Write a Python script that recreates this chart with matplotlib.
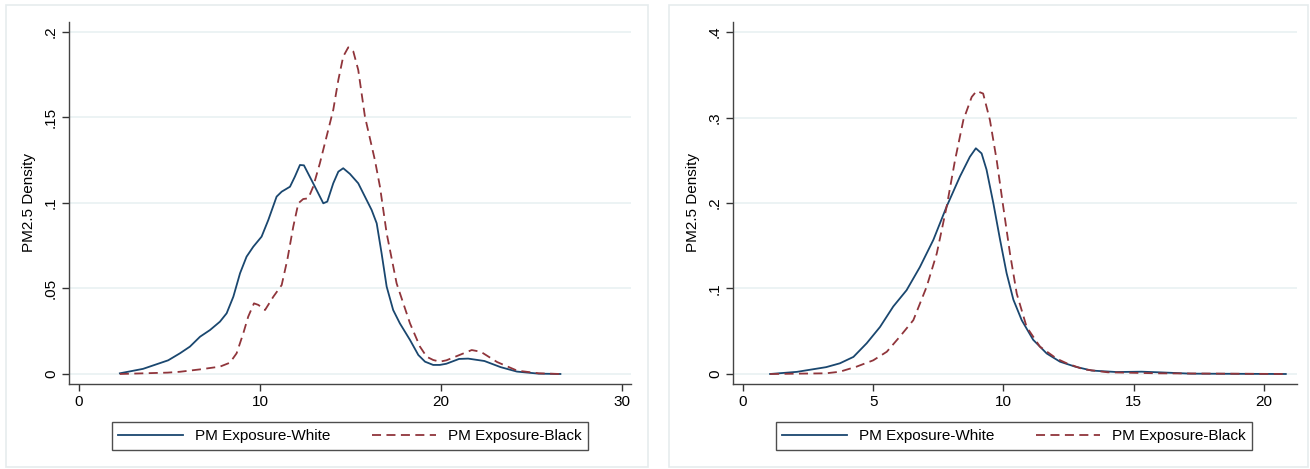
import numpy as np
import matplotlib.pyplot as plt
from matplotlib.patches import Rectangle

# left panel: density curves
left_white_x = [2.26, 3.54, 4.93, 5.58, 6.13, 6.69, 7.24, 7.79, 8.16, 8.53, 8.90, 9.26, 9.63, 10.09,
                10.46, 10.92, 11.20, 11.66, 11.93, 12.21, 12.43, 12.94, 13.50, 13.72, 14.05, 14.33,
                14.60, 14.97, 15.43, 15.80, 16.17, 16.45, 16.72, 17.0, 17.36, 17.73, 18.29, 18.75,
                19.12, 19.57, 19.94, 20.3, 21.0, 21.5, 22.4, 23.3, 24.2, 25.4, 26.6]
left_white_y = [0.0004, 0.003, 0.008, 0.0121, 0.016, 0.0218, 0.0257, 0.0306, 0.0355, 0.0452, 0.0589,
                0.0686, 0.0744, 0.0803, 0.090, 0.1037, 0.1066, 0.1095, 0.1154, 0.1222, 0.122, 0.1115,
                0.0998, 0.1008, 0.1115, 0.1183, 0.1203, 0.117, 0.1115, 0.1037, 0.0959, 0.0881,
                0.0706, 0.0511, 0.0374, 0.0296, 0.0199, 0.0111, 0.0072, 0.0053, 0.0053, 0.006,
                0.0088, 0.009, 0.0076, 0.004, 0.0014, 0.0002, 0.0]
left_black_x = [2.26, 4.9, 5.58, 6.69, 7.79, 8.34, 8.71, 9.08, 9.35, 9.67, 9.91, 10.28, 10.74, 11.20,
                11.51, 11.84, 12.12, 12.39, 12.67, 12.94, 13.31, 13.68, 14.05, 14.33, 14.60, 14.88,
                15.16, 15.43, 15.80, 16.35, 16.63, 17.0, 17.55, 18.29, 18.84, 19.21, 19.57, 19.94,
                20.3, 21.0, 21.7, 22.2, 23.1, 24.2, 25.4, 26.6]
left_black_y = [0.0, 0.0008, 0.0013, 0.0027, 0.0043, 0.0066, 0.0121, 0.0238, 0.0335, 0.0413, 0.0404,
                0.0374, 0.0452, 0.052, 0.0667, 0.0861, 0.0998, 0.1023, 0.1027, 0.1095, 0.1232,
                0.1388, 0.1544, 0.1719, 0.1856, 0.191, 0.1885, 0.1778, 0.1505, 0.1251, 0.1095,
                0.0823, 0.053, 0.0296, 0.016, 0.0101, 0.0082, 0.0072, 0.008, 0.011, 0.014, 0.013,
                0.007, 0.002, 0.0004, 0.0]

# right panel
right_white_x = [1.04, 2.07, 3.19, 3.72, 4.24, 4.75, 5.26, 5.77, 6.28, 6.79, 7.31, 7.82, 8.33, 8.71,
                 8.94, 9.16, 9.35, 9.61, 9.87, 10.12, 10.38, 10.70, 11.14, 11.66, 12.17, 12.75,
                 13.39, 14.34, 15.3, 15.94, 17.2, 20.84]
right_white_y = [0.0, 0.0025, 0.008, 0.0125, 0.020, 0.036, 0.055, 0.079, 0.098, 0.125, 0.157, 0.196,
                 0.231, 0.254, 0.264, 0.258, 0.239, 0.200, 0.157, 0.118, 0.087, 0.063, 0.040, 0.024,
                 0.0144, 0.0086, 0.004, 0.0023, 0.0027, 0.002, 0.0004, 0.0]
right_black_x = [1.04, 3.19, 3.72, 4.36, 5.0, 5.52, 6.03, 6.54, 7.05, 7.44, 7.82, 8.14, 8.46, 8.78,
                 8.97, 9.22, 9.48, 9.74, 9.99, 10.25, 10.51, 10.89, 11.40, 12.04, 12.43, 13.07,
                 14.0, 15.94, 20.84]
right_black_y = [0.0, 0.0008, 0.0027, 0.0086, 0.016, 0.026, 0.044, 0.063, 0.102, 0.141, 0.196, 0.250,
                 0.297, 0.324, 0.331, 0.328, 0.297, 0.250, 0.196, 0.141, 0.094, 0.055, 0.032, 0.018,
                 0.0125, 0.0055, 0.002, 0.0008, 0.0]

left_xticks = [0, 10, 20, 30]
left_yticks = [0, 0.05, 0.1, 0.15, 0.2]
left_yticklabels = ['0', '.05', '.1', '.15', '.2']
right_xticks = [0, 5, 10, 15, 20]
right_yticks = [0, 0.1, 0.2, 0.3, 0.4]
right_yticklabels = ['0', '.1', '.2', '.3', '.4']

NAVY = '#1a476f'
MAROON = '#90353b'
GRID = '#eaf2f3'
W, H = 1310, 469

fig = plt.figure(figsize=(W / 100, H / 100), dpi=100)
plt.rcParams['font.family'] = ['Liberation Sans', 'DejaVu Sans']

# light frames around each graph
for x0, x1 in [(6, 648), (669, 1308)]:
    fig.patches.append(Rectangle((x0 / W, 1 - 467 / H), (x1 - x0) / W, 462 / H,
                                 transform=fig.transFigure, fill=False,
                                 edgecolor='#e6ecee', linewidth=1.2))


def draw_panel(rect, wx, wy, bx, by, xticks, yticks, ylabels, xlim, ylim, legend_box):
    ax = fig.add_axes(rect)
    for y in yticks:
        ax.axhline(y, color=GRID, linewidth=1.3, zorder=0)
    ax.plot(wx, wy, color=NAVY, linewidth=1.3, label='PM Exposure-White')
    ax.plot(bx, by, color=MAROON, linewidth=1.3, dashes=(5, 3), label='PM Exposure-Black')
    ax.set_xlim(xlim)
    ax.set_ylim(ylim)
    ax.set_xticks(xticks)
    ax.set_yticks(yticks)
    ax.set_yticklabels(ylabels, rotation=90, va='center')
    ax.tick_params(labelsize=11, color='#333333', length=5, width=1, pad=3)
    for s in ['top', 'right']:
        ax.spines[s].set_visible(False)
    for s in ['left', 'bottom']:
        ax.spines[s].set_color('#444444')
        ax.spines[s].set_linewidth(1)
    ax.set_ylabel('PM2.5 Density', fontsize=11, labelpad=6)
    leg = fig.legend(*ax.get_legend_handles_labels(), loc='center',
                     bbox_to_anchor=legend_box, ncol=2, fontsize=11,
                     handlelength=4.2, columnspacing=2.7, handletextpad=0.8,
                     frameon=True, fancybox=False, borderpad=0.45)
    leg.get_frame().set_edgecolor('#222222')
    leg.get_frame().set_linewidth(1)
    return ax


draw_panel([69 / W, 1 - 384 / H, 562 / W, 362 / H],
           left_white_x, left_white_y, left_black_x, left_black_y,
           left_xticks, left_yticks, left_yticklabels,
           (-0.55, 30.5), (-0.00585, 0.2058),
           (350 / W, 1 - 436 / H))
draw_panel([733 / W, 1 - 384 / H, 564 / W, 362 / H],
           right_white_x, right_white_y, right_black_x, right_black_y,
           right_xticks, right_yticks, right_yticklabels,
           (-0.384, 21.27), (-0.0117, 0.4117),
           (1014 / W, 1 - 436 / H))

fig.savefig('out.png', dpi=100)
